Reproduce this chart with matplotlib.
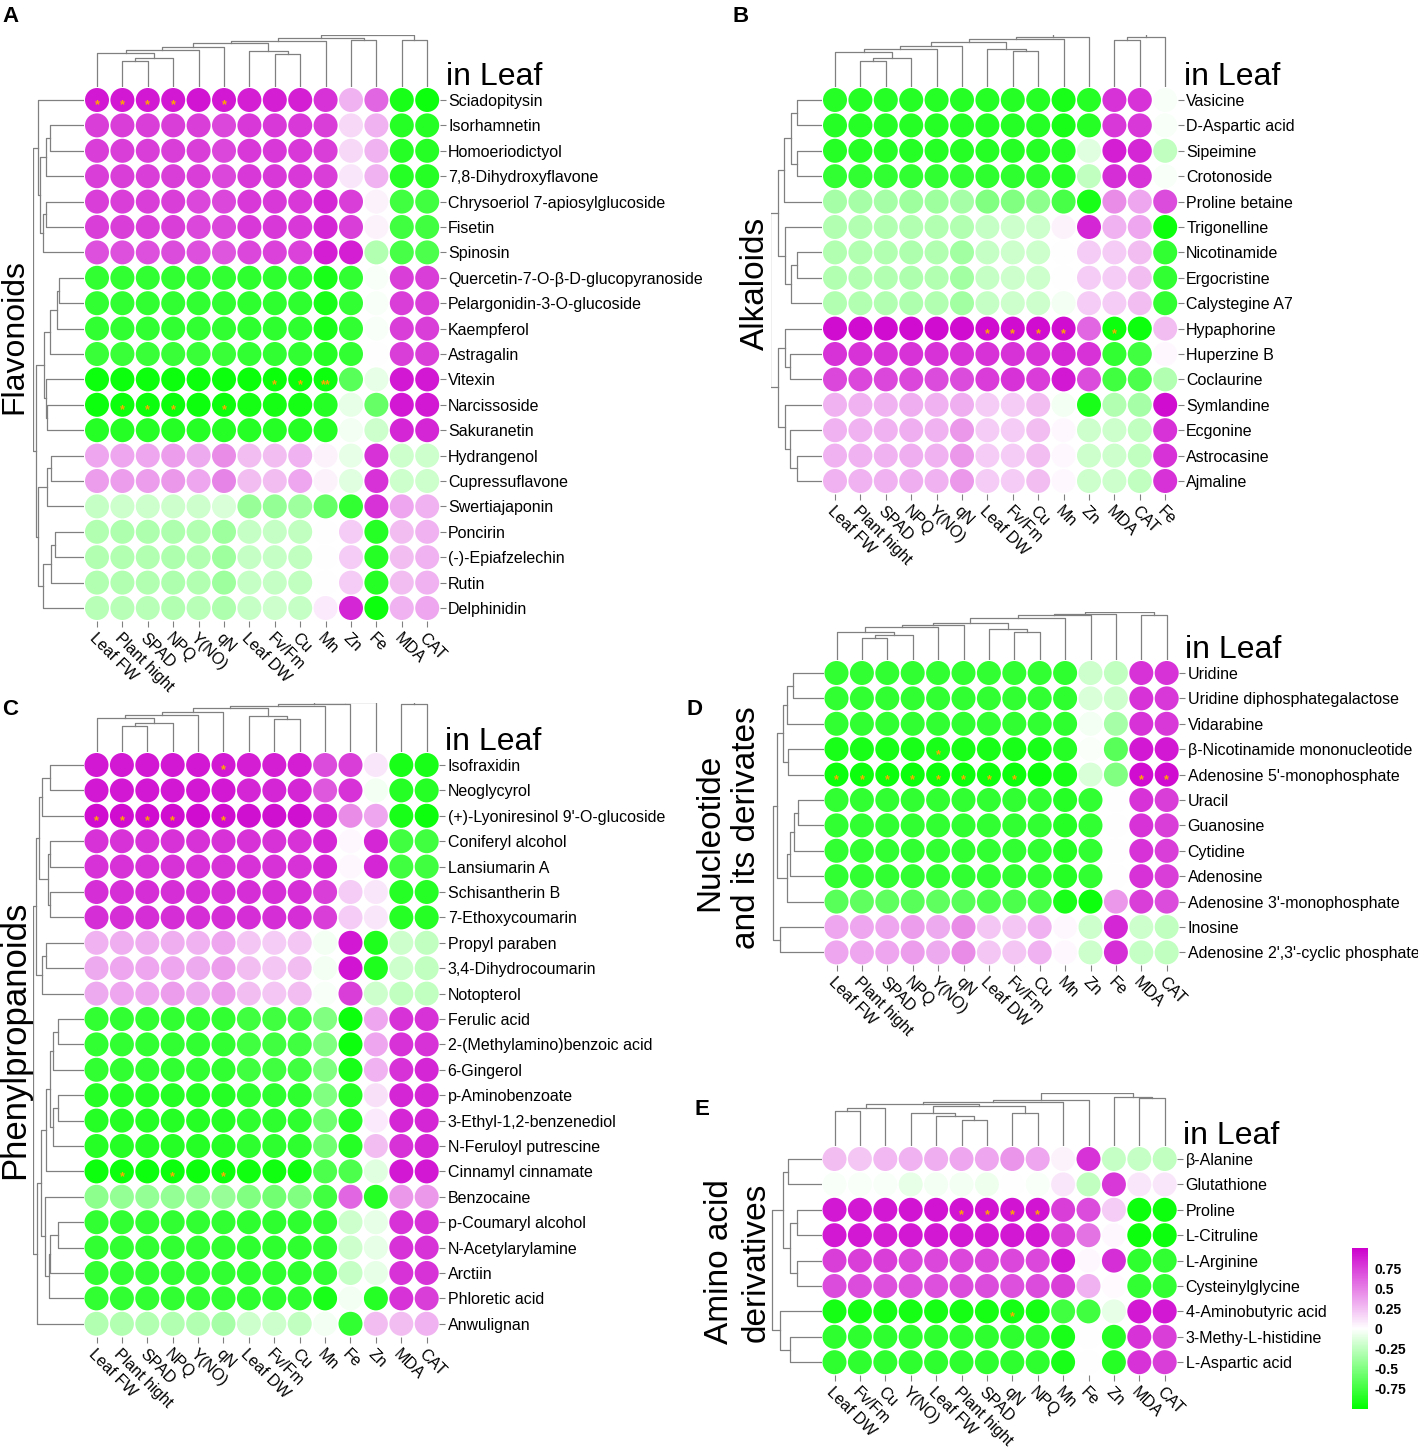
import numpy as np
import matplotlib
matplotlib.use("Agg")
import matplotlib.pyplot as plt
from matplotlib.colors import LinearSegmentedColormap

plt.rcParams['font.family'] = ['Liberation Sans', 'DejaVu Sans']

W, H = 1418, 1451
CELL = 25.4


def J(left, right, height):
    # one merge of a dendrogram: two children and the merge height (px)
    return [left, right, height]


# ---------------- data ----------------
cols_A = ['Leaf FW', 'Plant hight', 'SPAD', 'NPQ', 'Y(NO)', 'qN', 'Leaf DW', 'Fv/Fm', 'Cu', 'Mn', 'Zn', 'Fe', 'MDA', 'CAT']
rows_A = ['Sciadopitysin', 'Isorhamnetin', 'Homoeriodictyol', '7,8-Dihydroxyflavone',
          'Chrysoeriol 7-apiosylglucoside', 'Fisetin', 'Spinosin', 'Quercetin-7-O-β-D-glucopyranoside',
          'Pelargonidin-3-O-glucoside', 'Kaempferol', 'Astragalin', 'Vitexin', 'Narcissoside',
          'Sakuranetin', 'Hydrangenol', 'Cupressuflavone', 'Swertiajaponin', 'Poncirin',
          '(-)-Epiafzelechin', 'Rutin', 'Delphinidin']
vals_A = [
    [.9, .9, .9, .9, .92, .9, .88, .88, .88, .8, .3, .6, -.9, -.95],
    [.75, .75, .75, .75, .75, .72, .78, .78, .78, .75, .15, .3, -.85, -.85],
    [.75, .75, .75, .75, .75, .72, .78, .78, .78, .75, .15, .3, -.85, -.85],
    [.75, .75, .75, .75, .75, .72, .78, .78, .78, .75, .1, .3, -.85, -.85],
    [.75, .75, .75, .75, .72, .72, .78, .78, .78, .85, .75, .05, -.75, -.75],
    [.75, .75, .75, .75, .72, .72, .78, .78, .78, .85, .75, .05, -.75, -.75],
    [.68, .68, .68, .7, .68, .66, .72, .74, .74, .88, .88, -.3, -.72, -.7],
    [-.8, -.8, -.8, -.8, -.8, -.8, -.82, -.82, -.82, -.9, -.8, -.03, .75, .75],
    [-.8, -.8, -.8, -.8, -.8, -.8, -.82, -.82, -.82, -.9, -.8, -.03, .75, .75],
    [-.8, -.8, -.8, -.8, -.8, -.8, -.82, -.82, -.82, -.9, -.8, -.03, .75, .75],
    [-.78, -.78, -.78, -.78, -.78, -.78, -.8, -.8, -.8, -.85, -.8, 0, .75, .75],
    [-.95, -.95, -.95, -.95, -.95, -.95, -.96, -.96, -.96, -.95, -.65, -.1, .9, .9],
    [-.95, -.95, -.95, -.95, -.95, -.95, -.92, -.92, -.92, -.85, -.1, -.6, .9, .9],
    [-.85, -.85, -.85, -.85, -.85, -.85, -.85, -.85, -.85, -.85, -.05, -.2, .85, .85],
    [.35, .35, .35, .38, .33, .45, .25, .25, .3, .05, -.1, .8, -.2, -.2],
    [.38, .38, .38, .4, .35, .48, .25, .25, .35, .05, -.12, .8, -.2, -.2],
    [-.22, -.2, -.2, -.2, -.2, -.15, -.4, -.42, -.38, -.6, -.8, .8, .35, .3],
    [-.3, -.32, -.32, -.32, -.3, -.38, -.22, -.22, -.25, 0, .2, -.85, .25, .3],
    [-.3, -.3, -.3, -.32, -.3, -.38, -.22, -.22, -.25, 0, .2, -.85, .25, .3],
    [-.3, -.3, -.3, -.32, -.3, -.38, -.22, -.22, -.25, 0, .2, -.85, .25, .3],
    [-.28, -.28, -.28, -.3, -.28, -.32, -.22, -.2, -.22, .08, .85, -.95, .3, .35],
]
stars_A = [(0, 0, '*'), (0, 1, '*'), (0, 2, '*'), (0, 3, '*'), (0, 5, '*'),
           (11, 7, '*'), (11, 8, '*'), (11, 9, '**'),
           (12, 1, '*'), (12, 2, '*'), (12, 3, '*'), (12, 5, '*')]
ct = J(J(J(J(0, J(J(1, 2, 26), 3, 29), 34), 4, 37), 5, 40), J(6, J(7, 8, 33), 36), 44)
ct = J(J(ct, 9, 46), J(10, 11, 47), 49)
coltree_A = J(ct, J(12, 13, 47), 52)
g1 = J(0, J(J(J(1, 2, 34), 3, 38), J(J(4, 5, 38), 6, 41), 44), 46)
g2 = J(J(J(J(7, 8, 25), 9, 27), 10, 34), J(11, J(12, 13, 37), 38), 40)
g3 = J(J(J(14, 15, 33), 16, 37), J(J(J(17, 18, 29), 19, 33), 20, 41), 46)
rowtree_A = J(g1, J(g2, g3, 48), 51)

cols_B = ['Leaf FW', 'Plant hight', 'SPAD', 'NPQ', 'Y(NO)', 'qN', 'Leaf DW', 'Fv/Fm', 'Cu', 'Mn', 'Zn', 'MDA', 'CAT', 'Fe']
rows_B = ['Vasicine', 'D-Aspartic acid', 'Sipeimine', 'Crotonoside', 'Proline betaine', 'Trigonelline',
          'Nicotinamide', 'Ergocristine', 'Calystegine A7', 'Hypaphorine', 'Huperzine B', 'Coclaurine',
          'Symlandine', 'Ecgonine', 'Astrocasine', 'Ajmaline']
vals_B = [
    [-.85, -.85, -.85, -.85, -.85, -.85, -.85, -.85, -.85, -.9, -.85, .8, .8, -.03],
    [-.85, -.85, -.85, -.85, -.85, -.85, -.85, -.85, -.85, -.9, -.85, .78, .78, -.03],
    [-.85, -.85, -.85, -.85, -.85, -.85, -.85, -.85, -.85, -.85, -.12, .88, .85, -.25],
    [-.8, -.8, -.8, -.8, -.8, -.8, -.82, -.82, -.82, -.85, -.25, .82, .8, -.03],
    [-.35, -.35, -.35, -.38, -.38, -.35, -.5, -.5, -.45, -.72, -.9, .45, .35, .7],
    [-.3, -.3, -.3, -.3, -.3, -.3, -.22, -.2, -.2, .05, .85, .3, .35, -.95],
    [-.3, -.3, -.3, -.32, -.3, -.36, -.22, -.2, -.2, 0, .2, .2, .25, -.8],
    [-.3, -.3, -.3, -.32, -.3, -.36, -.22, -.2, -.2, 0, .2, .2, .25, -.8],
    [-.3, -.3, -.3, -.32, -.3, -.36, -.22, -.2, -.2, -.05, .2, .2, .25, -.8],
    [.95, .95, .95, .95, .95, .95, .95, .95, .95, .95, .6, -.95, -.95, .25],
    [.8, .8, .8, .8, .8, .8, .8, .8, .8, .85, .8, -.8, -.75, .03],
    [.72, .72, .72, .72, .7, .7, .76, .8, .76, .9, .7, -.75, -.7, -.3],
    [.3, .3, .3, .32, .3, .32, .2, .2, .25, -.05, -.9, -.3, -.35, .95],
    [.3, .3, .3, .32, .3, .4, .2, .2, .25, .03, -.2, -.2, -.25, .8],
    [.3, .3, .3, .32, .3, .4, .2, .2, .25, .03, -.2, -.2, -.25, .8],
    [.3, .3, .3, .32, .3, .4, .2, .2, .25, .03, -.2, -.2, -.25, .8],
]
stars_B = [(9, 6, '*'), (9, 7, '*'), (9, 8, '*'), (9, 9, '*'), (9, 11, '*')]
ct = J(J(J(J(0, J(J(1, 2, 26), 3, 29), 35), 4, 38), 5, 41), J(6, J(7, 8, 36), 38), 45)
ct = J(J(ct, 9, 48), 10, 50)
coltree_B = J(ct, J(J(11, 12, 47), 13, 50), 54)
g1 = J(J(J(J(0, 1, 25), J(2, 3, 25), 31), 4, 38), J(5, J(J(6, 7, 25), 8, 31), 37), 44)
g2 = J(J(9, J(10, 11, 32), 37), J(12, J(13, J(14, 15, 25), 32), 37), 44)
rowtree_B = J(g1, g2, 52)

cols_C = ['Leaf FW', 'Plant hight', 'SPAD', 'NPQ', 'Y(NO)', 'qN', 'Leaf DW', 'Fv/Fm', 'Cu', 'Mn', 'Fe', 'Zn', 'MDA', 'CAT']
rows_C = ['Isofraxidin', 'Neoglycyrol', "(+)-Lyoniresinol 9'-O-glucoside", 'Coniferyl alcohol',
          'Lansiumarin A', 'Schisantherin B', '7-Ethoxycoumarin', 'Propyl paraben', '3,4-Dihydrocoumarin',
          'Notopterol', 'Ferulic acid', '2-(Methylamino)benzoic acid', '6-Gingerol', 'p-Aminobenzoate',
          '3-Ethyl-1,2-benzenediol', 'N-Feruloyl putrescine', 'Cinnamyl cinnamate', 'Benzocaine',
          'p-Coumaryl alcohol', 'N-Acetylarylamine', 'Arctiin', 'Phloretic acid', 'Anwulignan']
vals_C = [
    [.9, .9, .9, .9, .9, .9, .88, .88, .88, .7, .75, .1, -.9, -.9],
    [.9, .9, .9, .9, .9, .9, .85, .85, .85, .65, .8, -.05, -.85, -.85],
    [.95, .95, .95, .95, .95, .95, .93, .93, .93, .85, .45, .35, -.9, -.95],
    [.8, .8, .8, .8, .8, .8, .8, .8, .8, .85, .03, .85, -.75, -.75],
    [.8, .8, .8, .8, .8, .8, .8, .8, .8, .85, .03, .85, -.75, -.75],
    [.82, .82, .82, .82, .82, .82, .82, .82, .82, .75, .2, .1, -.85, -.85],
    [.82, .82, .82, .82, .82, .82, .82, .82, .82, .75, .2, .1, -.85, -.85],
    [.3, .32, .32, .32, .3, .35, .22, .2, .22, -.05, .9, -.88, -.2, -.25],
    [.33, .35, .35, .35, .33, .38, .25, .22, .25, -.05, .92, -.88, -.2, -.25],
    [.33, .35, .35, .38, .33, .38, .25, .22, .25, -.03, .75, -.2, -.25, -.25],
    [-.8, -.8, -.8, -.8, -.8, -.8, -.75, -.75, -.75, -.5, -.95, .35, .8, .8],
    [-.8, -.8, -.8, -.8, -.8, -.8, -.75, -.75, -.75, -.5, -.95, .35, .8, .8],
    [-.8, -.8, -.8, -.8, -.8, -.8, -.75, -.75, -.75, -.5, -.9, .3, .8, .85],
    [-.85, -.85, -.85, -.85, -.85, -.85, -.82, -.82, -.82, -.5, -.85, .12, .85, .85],
    [-.85, -.85, -.85, -.85, -.85, -.85, -.82, -.82, -.82, -.55, -.85, .08, .85, .85],
    [-.85, -.85, -.85, -.85, -.85, -.85, -.82, -.82, -.82, -.55, -.85, .25, .8, .85],
    [-.95, -.95, -.95, -.95, -.95, -.95, -.93, -.93, -.93, -.7, -.7, -.12, .9, .9],
    [-.45, -.42, -.42, -.42, -.42, -.4, -.5, -.55, -.5, -.75, .6, -.85, .4, .4],
    [-.8, -.8, -.8, -.8, -.8, -.8, -.82, -.82, -.82, -.8, -.2, -.1, .8, .8],
    [-.8, -.8, -.8, -.8, -.8, -.8, -.82, -.82, -.82, -.8, -.2, -.1, .8, .8],
    [-.8, -.8, -.8, -.8, -.8, -.8, -.82, -.82, -.82, -.8, -.22, -.1, .8, .8],
    [-.8, -.8, -.8, -.8, -.8, -.8, -.82, -.82, -.82, -.9, -.05, -.85, .8, .75],
    [-.3, -.3, -.3, -.3, -.3, -.35, -.2, -.2, -.25, -.05, -.8, .25, .25, .3],
]
stars_C = [(0, 5, '*'), (2, 0, '*'), (2, 1, '*'), (2, 2, '*'), (2, 3, '*'), (2, 5, '*'),
           (16, 1, '*'), (16, 3, '*'), (16, 5, '*')]
ct = J(J(J(J(0, J(J(1, 2, 26), 3, 29), 34), 4, 37), 5, 40), J(6, J(7, 8, 33), 36), 44)
ct = J(J(J(ct, 9, 46), 10, 48), 11, 50)
coltree_C = J(ct, J(12, 13, 48), 52)
g1 = J(J(J(0, 1, 34), 2, 42), J(J(3, 4, 34), J(5, 6, 34), 36), 45)
g2 = J(J(7, 8, 38), 9, 42)
g3 = J(J(J(J(10, 11, 26), 12, 31), J(J(13, 14, 26), 15, 31), 34), 16, 38)
g4 = J(17, J(J(J(18, 19, 26), 20, 34), 21, 35), 39)
rowtree_C = J(J(g1, g2, 48), J(J(g3, g4, 43), 22, 47), 51)

cols_D = ['Leaf FW', 'Plant hight', 'SPAD', 'NPQ', 'Y(NO)', 'qN', 'Leaf DW', 'Fv/Fm', 'Cu', 'Mn', 'Zn', 'Fe', 'MDA', 'CAT']
rows_D = ['Uridine', 'Uridine diphosphategalactose', 'Vidarabine', 'β-Nicotinamide mononucleotide',
          "Adenosine 5'-monophosphate", 'Uracil', 'Guanosine', 'Cytidine', 'Adenosine',
          "Adenosine 3'-monophosphate", 'Inosine', "Adenosine 2',3'-cyclic phosphate"]
vals_D = [
    [-.8, -.8, -.8, -.8, -.8, -.8, -.8, -.8, -.8, -.82, -.2, -.25, .8, .8],
    [-.8, -.8, -.8, -.8, -.8, -.8, -.8, -.8, -.8, -.82, -.15, -.2, .8, .78],
    [-.8, -.8, -.8, -.8, -.8, -.8, -.8, -.8, -.8, -.82, -.05, -.35, .8, .78],
    [-.9, -.9, -.9, -.9, -.9, -.9, -.9, -.9, -.9, -.85, -.02, -.65, .9, .9],
    [-.95, -.95, -.95, -.95, -.95, -.95, -.95, -.95, -.95, -.9, -.15, -.5, .95, .95],
    [-.8, -.8, -.8, -.8, -.8, -.8, -.8, -.8, -.8, -.85, -.8, 0, .8, .75],
    [-.8, -.8, -.8, -.8, -.8, -.8, -.8, -.8, -.8, -.85, -.8, 0, .8, .75],
    [-.8, -.8, -.8, -.8, -.8, -.8, -.8, -.8, -.8, -.85, -.8, 0, .8, .75],
    [-.8, -.8, -.8, -.8, -.8, -.8, -.8, -.8, -.8, -.85, -.8, 0, .8, .75],
    [-.65, -.62, -.62, -.65, -.62, -.65, -.7, -.7, -.72, -.9, -.95, .4, .75, .7],
    [.35, .35, .35, .38, .33, .45, .22, .22, .3, .03, -.2, .85, -.2, -.25],
    [.35, .35, .35, .38, .33, .45, .22, .22, .3, .03, -.2, .82, -.22, -.25],
]
stars_D = [(3, 4, '*')] + [(4, c, '*') for c in (0, 1, 2, 3, 4, 5, 6, 7, 12, 13)]
ct = J(J(J(J(0, J(J(1, 2, 22), 3, 25), 28), 4, 33), 5, 35), J(6, J(7, 8, 28), 31), 37)
ct = J(J(J(ct, 9, 42), 10, 45), 11, 46)
coltree_D = J(ct, J(12, 13, 45), 48)
g1 = J(J(J(0, 1, 31), 2, 37), J(3, 4, 36), 41)
g2 = J(J(J(J(5, 6, 26), 7, 30), 8, 34), 9, 37)
rowtree_D = J(J(g1, g2, 47), J(10, 11, 44), 51)

cols_E = ['Leaf DW', 'Fv/Fm', 'Cu', 'Y(NO)', 'Leaf FW', 'Plant hight', 'SPAD', 'qN', 'NPQ', 'Mn', 'Fe', 'Zn', 'MDA', 'CAT']
rows_E = ['β-Alanine', 'Glutathione', 'Proline', 'L-Citruline', 'L-Arginine', 'Cysteinylglycine',
          '4-Aminobutyric acid', '3-Methy-L-histidine', 'L-Aspartic acid']
vals_E = [
    [.25, .22, .28, .3, .32, .35, .35, .42, .35, .05, .8, -.22, -.22, -.25],
    [-.03, -.03, -.03, -.1, -.05, -.05, -.07, 0, -.03, .1, -.25, .78, .1, .1],
    [.9, .9, .9, .92, .92, .92, .92, .92, .92, .75, .7, .2, -.95, -.95],
    [.9, .9, .88, .9, .9, .9, .9, .9, .9, .75, .55, .03, -.95, -.95],
    [.75, .75, .75, .72, .72, .72, .72, .72, .72, .9, .03, .82, -.82, -.8],
    [.7, .7, .68, .68, .68, .7, .7, .68, .7, .75, .3, .02, -.8, -.8],
    [-.92, -.92, -.92, -.92, -.92, -.92, -.92, -.92, -.92, -.75, -.75, -.1, .9, .9],
    [-.82, -.82, -.82, -.82, -.82, -.82, -.82, -.82, -.82, -.9, 0, -.85, .8, .75],
    [-.82, -.82, -.82, -.82, -.82, -.82, -.82, -.82, -.82, -.9, 0, -.85, .8, .75],
]
stars_E = [(2, 5, '*'), (2, 6, '*'), (2, 7, '*'), (2, 8, '*'), (6, 7, '*')]
ct = J(J(J(0, 1, 35), 2, 38), J(J(3, J(4, J(5, 6, 26), 30), 33), J(7, 8, 33), 40), 42)
ct = J(J(ct, 9, 44), 10, 46)
coltree_E = J(ct, J(11, J(12, 13, 48), 49), 53)
rowtree_E = J(J(J(0, 1, 34), J(J(2, 3, 25), J(4, 5, 25), 32), 39), J(6, J(7, 8, 32), 42), 50)

# group titles: one entry per text line (text, x px, y px)
group_A = [('Flavonoids', 14, 337)]
group_B = [('Alkaloids', 755, 283)]
group_C = [('Phenylpropanoids', 15, 1040)]
group_D = [('Nucleotide', 710, 832), ('and its derivates', 747, 828)]
group_E = [('Amino acid', 719, 1262), ('derivatives', 756, 1262)]

# ---------------- layout (pixels) ----------------
panels = [
    dict(letter='A', rows=rows_A, cols=cols_A, vals=vals_A, stars=stars_A, ct=coltree_A, rt=rowtree_A,
         x0=97, y0=100, dtop=35, dleft=33, lx=2, ly=0, gsz=23, group=group_A),
    dict(letter='B', rows=rows_B, cols=cols_B, vals=vals_B, stars=stars_B, ct=coltree_B, rt=rowtree_B,
         x0=835, y0=100, dtop=35, dleft=771, lx=733, ly=0, gsz=24, group=group_B),
    dict(letter='C', rows=rows_C, cols=cols_C, vals=vals_C, stars=stars_C, ct=coltree_C, rt=rowtree_C,
         x0=96.5, y0=765, dtop=703, dleft=33, lx=2, ly=693, gsz=25, group=group_C),
    dict(letter='D', rows=rows_D, cols=cols_D, vals=vals_D, stars=stars_D, ct=coltree_D, rt=rowtree_D,
         x0=836.5, y0=673, dtop=612, dleft=772, lx=686, ly=693, gsz=24, group=group_D),
    dict(letter='E', rows=rows_E, cols=cols_E, vals=vals_E, stars=stars_E, ct=coltree_E, rt=rowtree_E,
         x0=834.5, y0=1159, dtop=1093, dleft=770, lx=694, ly=1093, gsz=24, group=group_E),
]

cmap = LinearSegmentedColormap.from_list('gwm', ['#00FF00', '#FFFFFF', '#CD00CD'])
LINE = '#808080'

fig = plt.figure(figsize=(W / 100, H / 100), dpi=100)


def px_axes(left, top, width, height):
    return fig.add_axes([left / W, 1 - (top + height) / H, width / W, height / H])


def draw_tree(ax, node, orient):
    def rec(n):
        if isinstance(n, int):
            return float(n), 0.0
        l, r, h = n
        pl, hl = rec(l)
        pr, hr = rec(r)
        if orient == 'top':
            ax.plot([pl, pl, pr, pr], [hl, h, h, hr], color=LINE, lw=0.9)
        else:
            ax.plot([hl, h, h, hr], [pl, pl, pr, pr], color=LINE, lw=0.9)
        return (pl + pr) / 2, h
    rec(node)


for p in panels:
    vals = np.array(p['vals'])
    nr, nc = vals.shape
    left = p['x0'] - CELL / 2
    top = p['y0'] - CELL / 2
    ax = px_axes(left, top, nc * CELL, nr * CELL)
    yy, xx = np.mgrid[0:nr, 0:nc]
    ax.scatter(xx.ravel(), yy.ravel(), c=vals.ravel(), cmap=cmap, vmin=-1, vmax=1,
               s=(24 * 0.72) ** 2, edgecolors='none')
    for r, c, m in p['stars']:
        ax.text(c, r + 0.22, m, color='#FFA800', fontsize=9, fontweight='bold',
                ha='center', va='center')
    ax.set_xlim(-0.5, nc - 0.5)
    ax.set_ylim(nr - 0.5, -0.5)
    for s in ax.spines.values():
        s.set_visible(False)
    ax.set_xticks(range(nc))
    ax.set_xticklabels(p['cols'], rotation=-45, ha='left', rotation_mode='anchor', fontsize=11.5)
    ax.set_yticks(range(nr))
    ax.set_yticklabels(p['rows'], fontsize=11.5)
    ax.yaxis.tick_right()
    ax.tick_params(axis='x', length=4, width=0.8, color=LINE, pad=3)
    ax.tick_params(axis='y', length=4, width=0.8, color=LINE, pad=2)

    # column dendrogram
    dh = top - p['dtop']
    axt = px_axes(left, p['dtop'], nc * CELL, dh)
    draw_tree(axt, p['ct'], 'top')
    axt.set_xlim(-0.5, nc - 0.5)
    axt.set_ylim(0, dh)
    axt.axis('off')

    # row dendrogram
    dw = left - p['dleft']
    axl = px_axes(p['dleft'], top, dw, nr * CELL)
    draw_tree(axl, p['rt'], 'left')
    axl.set_xlim(dw, 0)
    axl.set_ylim(nr - 0.5, -0.5)
    axl.axis('off')

    right = left + nc * CELL
    fig.text((right + 6) / W, 1 - (top - 2) / H, 'in Leaf', fontsize=23, ha='left', va='baseline')
    fig.text(p['lx'] / W, 1 - (p['ly'] + 6) / H, p['letter'], fontsize=16, fontweight='bold',
             ha='left', va='top')
    for txt, gx, gy in p['group']:
        fig.text(gx / W, 1 - gy / H, txt, fontsize=p['gsz'], rotation=90, ha='center', va='center')

# colour bar
cax = px_axes(1352, 1248, 16, 161)
sm = plt.cm.ScalarMappable(cmap=cmap, norm=plt.Normalize(-1, 1))
cb = fig.colorbar(sm, cax=cax, ticks=[-0.75, -0.5, -0.25, 0, 0.25, 0.5, 0.75])
cb.outline.set_visible(False)
cb.ax.set_yticklabels(['-0.75', '-0.5', '-0.25', '0', '0.25', '0.5', '0.75'], fontsize=10, fontweight='bold')
cb.ax.tick_params(length=3, color='white', pad=2)

fig.savefig('out.png', dpi=100)
